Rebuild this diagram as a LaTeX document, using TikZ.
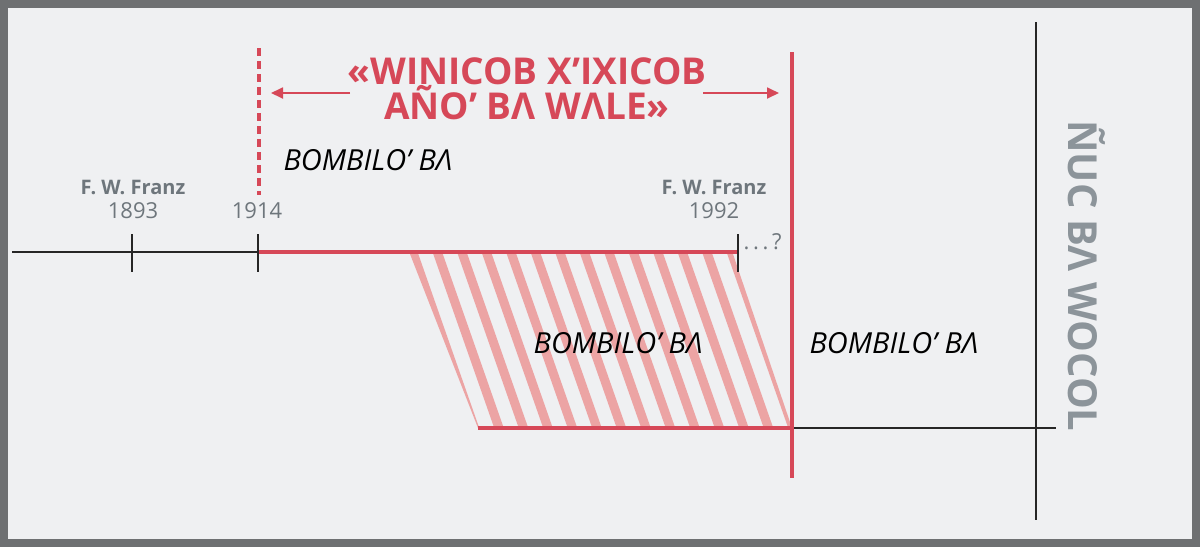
\documentclass[tikz,border=0pt]{standalone}
\usepackage{fontspec}
\setmainfont{Open Sans}
\usetikzlibrary{arrows.meta}
\definecolor{bgcol}{RGB}{239,240,242}
\definecolor{framecol}{RGB}{110,112,114}
\definecolor{redcol}{RGB}{214,72,88}
\definecolor{hatchcol}{RGB}{236,164,164}
\definecolor{greycol}{RGB}{110,118,124}
\definecolor{lightgrey}{RGB}{140,148,154}
\tikzset{
	redline/.style={redcol, line width=3.5pt},
	blackline/.style={black!85, line width=2pt},
	tick/.style={black!85, line width=1.6pt},
	italtext/.style={font=\fontsize{29}{32}\selectfont\itshape, text=black},
	nametext/.style={font=\fontsize{20}{22}\selectfont\bfseries, text=greycol},
	yeartext/.style={font=\fontsize{22}{24}\selectfont, text=greycol},
	arrowline/.style={redcol, line width=1.8pt, -{Triangle[length=12pt,width=11pt]}}
}
\begin{document}
\begin{tikzpicture}[x=1pt, y=-1pt]
	% Rahmen
	\filldraw[draw=framecol, line width=8pt, fill=bgcol] (4,4) rectangle (1196,543);
	% Schraffur
	\begin{scope}
		\clip (410,254) -- (733,254) -- (792,428) -- (478,428) -- cycle;
		\foreach \k in {-1,...,16}
			\draw[hatchcol, line width=9pt] (410+\k*24.5,244) -- (478+\k*24.5,438);
	\end{scope}
	% Zeitachse oben
	\coordinate (l0) at (12,252);
	\coordinate (l1) at (258,252);
	\coordinate (l2) at (738,252);
	\draw[blackline] (l0) -- (l1);
	\draw[redline] (l1) -- (l2);
	\foreach \x in {132,258,738}
		\draw[tick] (\x,234) -- (\x,272);
	% Zeitachse unten
	\coordinate (b0) at (478,428);
	\coordinate (b1) at (792,428);
	\coordinate (b2) at (1056,428);
	\draw[blackline] (b1) -- (b2);
	\draw[redline] (b0) -- (b1);
	% Senkrechte
	\coordinate (d0) at (259,48);
	\coordinate (d1) at (259,195);
	\draw[redcol, line width=3.5pt, dash pattern=on 8pt off 5pt] (d0) -- (d1);
	\coordinate (r0) at (792,52);
	\coordinate (r1) at (792,478);
	\draw[redline] (r0) -- (r1);
	\coordinate (v0) at (1036,22);
	\coordinate (v1) at (1036,520);
	\draw[blackline] (v0) -- (v1);
	% Titel
	\node[align=center, text=redcol, font=\fontsize{37}{34}\selectfont\bfseries] (title) at (527,89) {«WINICOB X’IXICOB\\AÑO’ BΛ WΛLE»};
	\coordinate (al) at (271,93);
	\coordinate (ar) at (779,93);
	\draw[arrowline] (350,93) -- (al);
	\draw[arrowline] (703,93) -- (ar);
	% Beschriftungen
	\node[italtext, anchor=west] (bom1) at (280,160) {BOMBILO’ BΛ};
	\node[italtext] (bom2) at (618,343) {BOMBILO’ BΛ};
	\node[italtext, anchor=west] (bom3) at (806,343) {BOMBILO’ BΛ};
	\node[nametext] (n1) at (133,187) {F. W. Franz};
	\node[yeartext] (y1) at (133,211) {1893};
	\node[yeartext] (y2) at (257,211) {1914};
	\node[nametext] (n2) at (714,187) {F. W. Franz};
	\node[yeartext] (y3) at (714,211) {1992};
	\node[yeartext, anchor=west] (q) at (740,242) {.\,.\,.\,?};
	\node[rotate=-90, text=lightgrey, font=\fontsize{40}{40}\selectfont\bfseries] (side) at (1087,276) {ÑUC BΛ WOCOL};
\end{tikzpicture}
\end{document}
